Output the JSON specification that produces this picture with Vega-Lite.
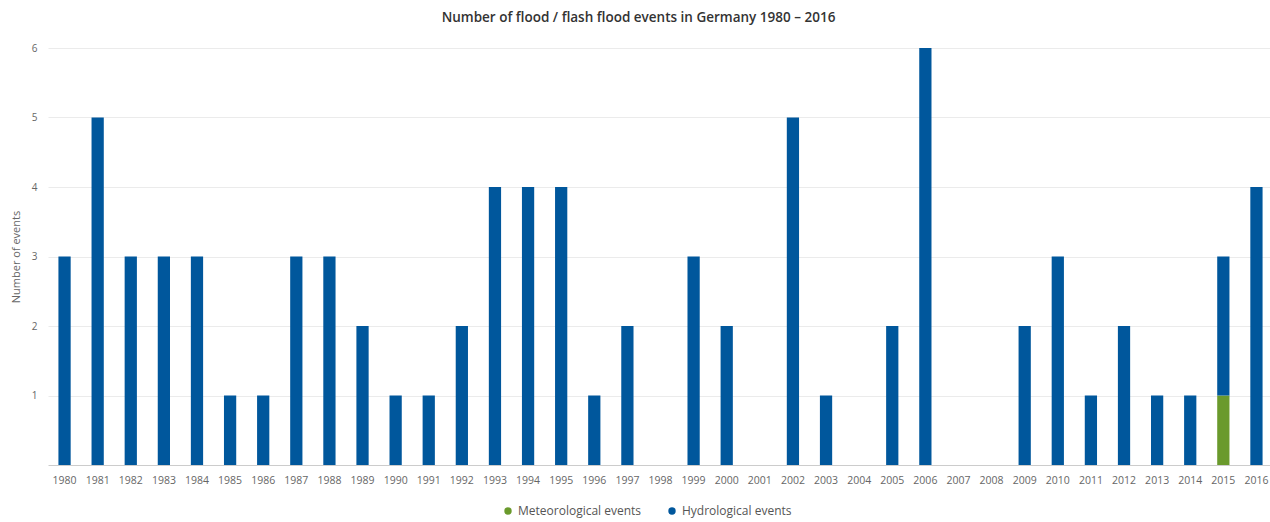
{
  "$schema": "https://vega.github.io/schema/vega-lite/v6.json",
  "width": 1225,
  "height": 417,
  "autosize": {"type": "none"},
  "padding": {"left": 48, "top": 48, "right": 0, "bottom": 57},
  "background": "#ffffff",
  "config": {"view": {"stroke": null}, "font": "Open Sans"},
  "title": {
    "text": "Number of flood / flash flood events in Germany 1980 – 2016",
    "fontSize": 13.5,
    "fontWeight": 600,
    "color": "#333333",
    "anchor": "middle",
    "frame": "group",
    "dx": -22,
    "offset": 19,
    "font": "Open Sans"
  },
  "data": {
    "values": [
      {"year": "1980", "type": "Hydrological events", "n": 3},
      {"year": "1981", "type": "Hydrological events", "n": 5},
      {"year": "1982", "type": "Hydrological events", "n": 3},
      {"year": "1983", "type": "Hydrological events", "n": 3},
      {"year": "1984", "type": "Hydrological events", "n": 3},
      {"year": "1985", "type": "Hydrological events", "n": 1},
      {"year": "1986", "type": "Hydrological events", "n": 1},
      {"year": "1987", "type": "Hydrological events", "n": 3},
      {"year": "1988", "type": "Hydrological events", "n": 3},
      {"year": "1989", "type": "Hydrological events", "n": 2},
      {"year": "1990", "type": "Hydrological events", "n": 1},
      {"year": "1991", "type": "Hydrological events", "n": 1},
      {"year": "1992", "type": "Hydrological events", "n": 2},
      {"year": "1993", "type": "Hydrological events", "n": 4},
      {"year": "1994", "type": "Hydrological events", "n": 4},
      {"year": "1995", "type": "Hydrological events", "n": 4},
      {"year": "1996", "type": "Hydrological events", "n": 1},
      {"year": "1997", "type": "Hydrological events", "n": 2},
      {"year": "1998", "type": "Hydrological events", "n": 0},
      {"year": "1999", "type": "Hydrological events", "n": 3},
      {"year": "2000", "type": "Hydrological events", "n": 2},
      {"year": "2001", "type": "Hydrological events", "n": 0},
      {"year": "2002", "type": "Hydrological events", "n": 5},
      {"year": "2003", "type": "Hydrological events", "n": 1},
      {"year": "2004", "type": "Hydrological events", "n": 0},
      {"year": "2005", "type": "Hydrological events", "n": 2},
      {"year": "2006", "type": "Hydrological events", "n": 6},
      {"year": "2007", "type": "Hydrological events", "n": 0},
      {"year": "2008", "type": "Hydrological events", "n": 0},
      {"year": "2009", "type": "Hydrological events", "n": 2},
      {"year": "2010", "type": "Hydrological events", "n": 3},
      {"year": "2011", "type": "Hydrological events", "n": 1},
      {"year": "2012", "type": "Hydrological events", "n": 2},
      {"year": "2013", "type": "Hydrological events", "n": 1},
      {"year": "2014", "type": "Hydrological events", "n": 1},
      {"year": "2015", "type": "Meteorological events", "n": 1},
      {"year": "2015", "type": "Hydrological events", "n": 2},
      {"year": "2016", "type": "Hydrological events", "n": 4}
    ]
  },
  "layer": [
    {
      "mark": {"type": "bar"},
      "encoding": {
        "x": {
          "field": "year",
          "type": "nominal",
          "sort": null,
          "scale": {"paddingInner": 0.63, "paddingOuter": 0.315},
          "axis": {
            "title": null,
            "labelAngle": 0,
            "labelFontSize": 10.5,
            "labelColor": "#666666",
            "labelFont": "Open Sans",
            "labelPadding": 10,
            "ticks": false,
            "domain": true,
            "domainColor": "#cccccc",
            "grid": false
          }
        },
        "y": {
          "field": "n",
          "type": "quantitative",
          "stack": "zero",
          "scale": {"domain": [0, 6]},
          "axis": {
            "title": "Number of events",
            "titleFontSize": 11,
            "titleFontWeight": "normal",
            "titleColor": "#666666",
            "titleFont": "Open Sans",
            "titlePadding": 10,
            "values": [1, 2, 3, 4, 5, 6],
            "labelFontSize": 10,
            "labelColor": "#666666",
            "labelFont": "Open Sans",
            "labelPadding": 11,
            "ticks": false,
            "domain": false,
            "grid": true,
            "gridColor": "#ebebeb",
            "gridWidth": 1
          }
        },
        "color": {
          "field": "type",
          "type": "nominal",
          "scale": {
            "domain": ["Meteorological events", "Hydrological events"],
            "range": ["#6a9a2c", "#00579c"]
          },
          "legend": {
            "title": null,
            "orient": "none",
            "direction": "horizontal",
            "legendX": 454,
            "legendY": 457,
            "symbolType": "circle",
            "symbolSize": 55,
            "labelFontSize": 12,
            "labelColor": "#555555",
            "labelFont": "Open Sans",
            "columnPadding": 24
          }
        },
        "order": {"field": "type", "sort": "descending"}
      }
    }
  ]
}
